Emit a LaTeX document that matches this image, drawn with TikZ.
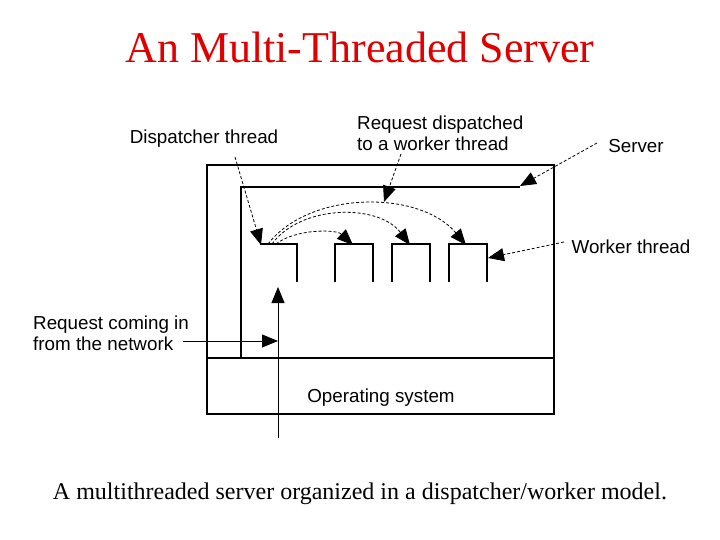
\documentclass[tikz,border=0pt]{standalone}
\usepackage{fontspec}
\setmainfont{Liberation Serif}
\setsansfont{Liberation Sans}
\usetikzlibrary{arrows.meta}
\definecolor{titlered}{RGB}{224,0,0}

\begin{document}
\begin{tikzpicture}[x=1pt,y=-1pt,
  lbl/.style={font=\sffamily\fontsize{18.8}{21}\selectfont,inner sep=0pt,align=left},
  tip/.style={-{Triangle[length=16pt,width=13pt]}},
  dsh/.style={tip,dash pattern=on 3pt off 2pt,line width=0.8pt},
  thin line/.style={line width=1.2pt}]
 \useasboundingbox (0,0) rectangle (720,540);
 \node[titlered,font=\fontsize{44}{50}\selectfont] (title) at (360,47) {An Multi-Threaded Server};
 \node[font=\fontsize{24}{28}\selectfont] (cap) at (360,494) {A multithreaded server organized in a dispatcher/worker model.};
 % server and operating system
 \draw[line width=2.6pt] (207,165) rectangle (554,414);
 \draw[thin line] (207,358) -- (554,358);
 \draw[thin line] (241,358) |- (520,187);
 \node[lbl] (os) at (381,398) {Operating system};
 % dispatcher and workers
 \draw[thin line] (260,244) -| (297,282);
 \foreach \x in {335,392,449} \draw[thin line] (\x,282) |- (\x+38,244) -- (\x+38,282);
 \coordinate (disp) at (261,245);
 \coordinate (srv) at (520,186);
 \coordinate (wrk) at (488,258);
 \coordinate (hand) at (384,202);
 \coordinate (w1) at (353,245);
 \coordinate (w2) at (410,245);
 \coordinate (w3) at (466,245);
 \draw[dsh] (268,244) .. controls (310,190) and (420,190) .. (w3);
 \draw[dsh] (272,244) .. controls (300,205) and (378,203) .. (w2);
 \draw[dsh] (276,244) .. controls (295,229) and (336,229) .. (w1);
 % labels
 \node[lbl] (dl) at (204,139) {Dispatcher thread};
 \node[lbl,anchor=west] (rl) at (357,133) {Request dispatched\\to a worker thread};
 \node[lbl] (sl) at (636,146) {Server};
 \node[lbl] (wl) at (631,247) {Worker thread};
 \node[lbl,anchor=west] (nl) at (33,333) {Request coming in\\from the network};
 \coordinate (d0) at (235,157);
 \coordinate (r0) at (401,154);
 \coordinate (s0) at (597,143);
 \coordinate (w0) at (564,242);
 \draw[dsh] (d0) -- (disp);
 \draw[dsh] (r0) -- (hand);
 \draw[dsh] (s0) -- (srv);
 \draw[dsh] (w0) -- (wrk);
 % network
 \coordinate (n0) at (183,341);
 \coordinate (n1) at (278,341);
 \coordinate (in0) at (278,438);
 \coordinate (in1) at (278,287);
 \draw[tip,line width=0.9pt] (n0) -- (n1);
 \draw[tip,line width=0.9pt] (in0) -- (in1);
\end{tikzpicture}
\end{document}
